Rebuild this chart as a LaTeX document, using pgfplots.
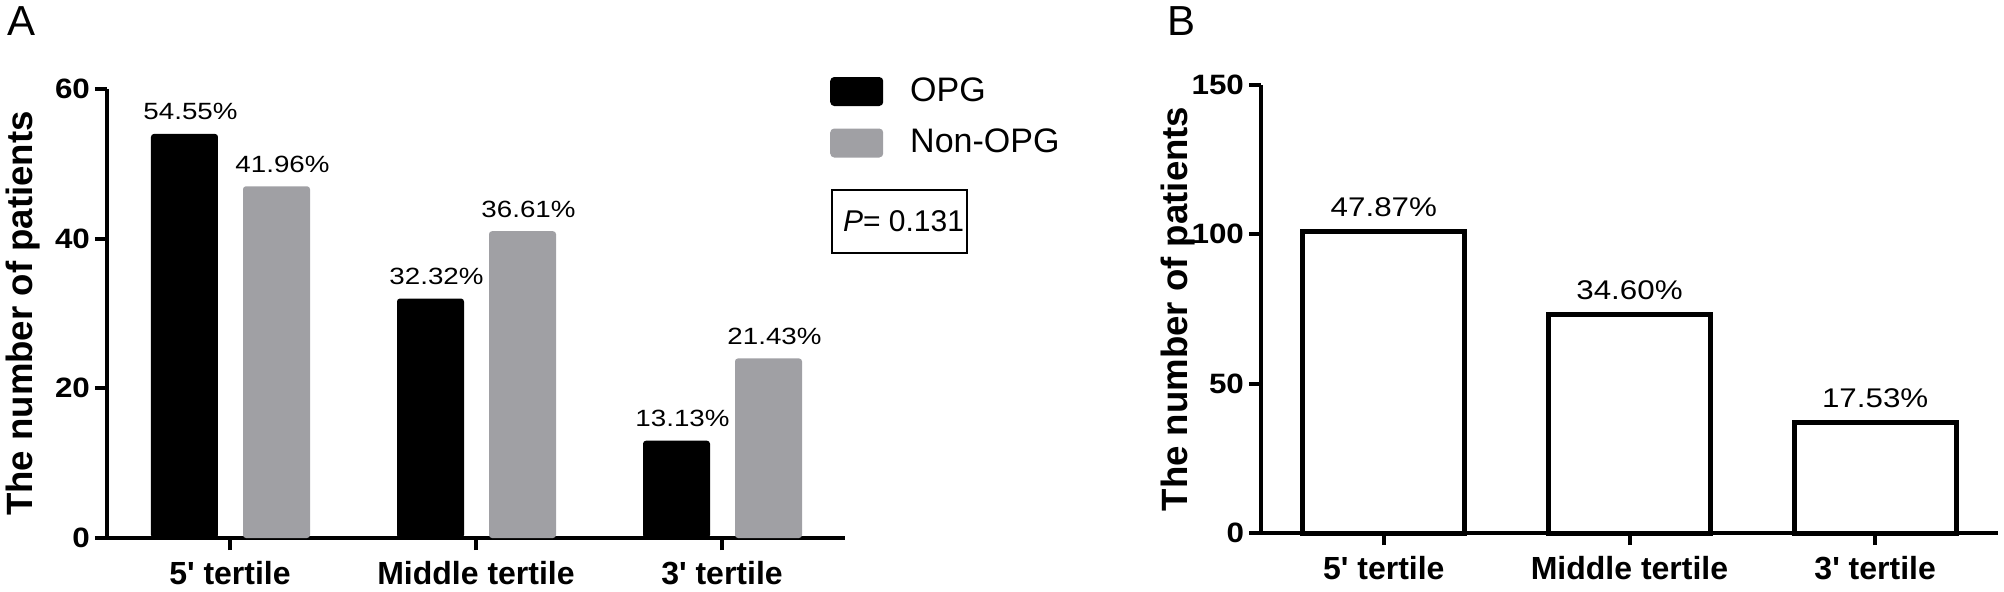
\documentclass[border=0pt]{standalone}
\usepackage{fontspec}
\setmainfont{Liberation Sans}
\usepackage{graphicx}
\usepackage{pgfplots}
\pgfplotsset{compat=1.18}
\definecolor{opggray}{RGB}{160,160,164}
\pgfplotsset{
  common/.style={
    scale only axis, anchor=south west,
    xmin=-0.5, xmax=2.5, ymin=0,
    axis x line=bottom, axis y line=left,
    axis line style={-, line width=2pt},
    tick style={line width=2pt, black},
    tick align=outside, major tick length=6pt,
    xtick={0,1,2},
    xticklabels={5\textquotesingle{} tertile, Middle tertile, 3\textquotesingle{} tertile},
    xticklabel style={font=\bfseries\fontsize{16}{16}\selectfont, yshift=-2pt},
    yticklabel style={font=\bfseries\fontsize{14}{14}\selectfont, xshift=1pt},
    ylabel={The number of patients},
    clip=false,
  },
}
\begin{document}
\begin{tikzpicture}
\path[use as bounding box] (0,0) rectangle (1002pt,295.5pt);

\begin{axis}[common,
  at={(53.5pt,26.5pt)}, width=369pt, height=224.5pt,
  ymax=60, ytick={0,20,40,60},
  yticklabels={\scalebox{1.12}[1]{0},\scalebox{1.12}[1]{20},\scalebox{1.12}[1]{40},\scalebox{1.12}[1]{60}},
  ylabel style={font=\bfseries\fontsize{18.3}{18.3}\selectfont, at={(axis description cs:-0.1016,0.5)}, anchor=base},
  legend style={at={(0.98,1.0267)}, anchor=north west, draw=none, fill=none, inner sep=0pt, outer sep=0pt,
    row sep=11.25pt, font=\fontsize{17}{17}\selectfont, nodes={inner sep=0pt},
    /tikz/every odd column/.append style={column sep=13.5pt}},
  legend cell align=left,
  legend image code/.code={\fill[#1, rounded corners=2pt] (0pt,-7.5pt) rectangle (26.5pt,7pt);},
]
\addplot[ybar, bar width=33.5pt, bar shift=-22.75pt, fill=black, draw=none, rounded corners=1.5pt,
  point meta=explicit symbolic, nodes near coords={\scalebox{1.18}[1]{\pgfplotspointmeta}},
  every node near coord/.append style={font=\fontsize{11.75}{11.75}\selectfont, anchor=base, yshift=7pt, xshift=-19.75pt, rounded corners=0pt}]
  coordinates {(0,54) [54.55\%] (1,32) [32.32\%] (2,13) [13.13\%]};
\addlegendentry{OPG}
\addplot[ybar, bar width=33.5pt, bar shift=23.25pt, fill=opggray, draw=none, rounded corners=1.5pt,
  point meta=explicit symbolic, nodes near coords={\scalebox{1.18}[1]{\pgfplotspointmeta}},
  every node near coord/.append style={font=\fontsize{11.75}{11.75}\selectfont, anchor=base, yshift=7pt, xshift=26.25pt, rounded corners=0pt}]
  coordinates {(0,47) [41.96\%] (1,41) [36.61\%] (2,24) [21.43\%]};
\addlegendentry{Non-OPG}
\end{axis}

\node[draw, line width=1pt, minimum width=67.5pt, minimum height=31.5pt, inner sep=0pt,
  font=\fontsize{15}{15}\selectfont] at (449.75pt,184.75pt) {\hspace{4pt}\textit{P}= 0.131};

\begin{axis}[common,
  at={(630.5pt,29pt)}, width=368.5pt, height=224pt,
  ymax=150, ytick={0,50,100,150},
  yticklabels={\scalebox{1.12}[1]{0},\scalebox{1.12}[1]{50},\scalebox{1.12}[1]{100},\scalebox{1.12}[1]{150}},
  ylabel style={font=\bfseries\fontsize{18.3}{18.3}\selectfont, at={(axis description cs:-0.1004,0.5)}, anchor=base},
]
\addplot[ybar, bar width=81pt, bar shift=0pt, fill=white, draw=black, line width=2.5pt,
  point meta=explicit symbolic, nodes near coords={\scalebox{1.16}[1]{\pgfplotspointmeta}},
  every node near coord/.append style={font=\fontsize{13.5}{13.5}\selectfont, anchor=base, yshift=7.5pt, xshift=0pt}]
  coordinates {(0,101) [47.87\%] (1,73) [34.60\%] (2,37) [17.53\%]};
\end{axis}

\node[anchor=base west, inner sep=0pt, font=\fontsize{21}{21}\selectfont] at (3.5pt,278pt) {A};
\node[anchor=base west, inner sep=0pt, font=\fontsize{21}{21}\selectfont] at (583.5pt,278pt) {B};
\end{tikzpicture}
\end{document}
